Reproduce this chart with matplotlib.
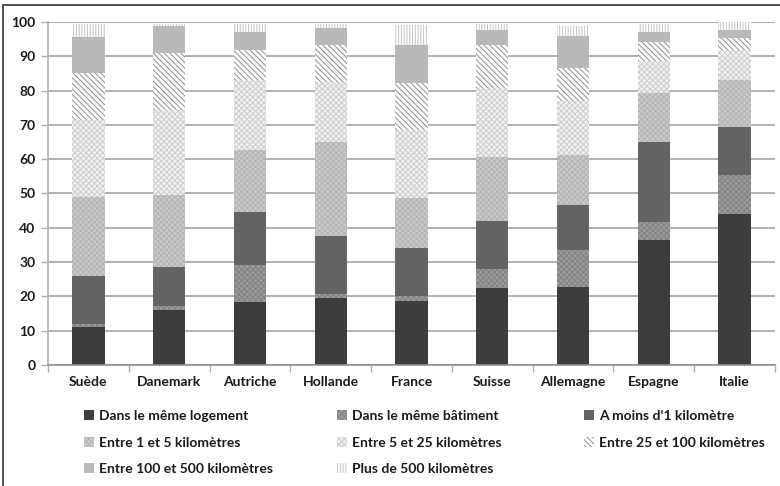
import matplotlib.pyplot as plt
import numpy as np
from matplotlib.patches import Rectangle

plt.rcParams['font.family'] = ['Lato', 'DejaVu Sans']
plt.rcParams['font.weight'] = 'bold'
plt.rcParams['hatch.linewidth'] = 0.7

# Pays
pays = ['Suède', 'Danemark', 'Autriche', 'Hollande', 'France',
        'Suisse', 'Allemagne', 'Espagne', 'Italie']

# Part (%) par distance, dans l'ordre d'empilement
logement = [11.2, 16.1, 18.5, 19.5, 18.6, 22.4, 22.7, 36.5, 44.1]
batiment = [0.8, 1.0, 10.8, 1.1, 1.5, 5.6, 10.7, 5.2, 11.2]
moins_1km = [13.9, 11.5, 15.3, 17.0, 13.9, 14.0, 13.3, 23.3, 14.0]
km_1_5 = [23.0, 21.0, 18.1, 27.4, 14.8, 18.6, 14.5, 14.2, 13.7]
km_5_25 = [22.4, 24.8, 20.3, 17.5, 19.6, 20.1, 15.9, 9.4, 8.9]
km_25_100 = [13.8, 16.6, 8.7, 10.7, 13.8, 12.7, 9.6, 5.5, 3.3]
km_100_500 = [10.5, 7.8, 5.3, 5.1, 11.2, 4.2, 9.2, 3.1, 2.4]
plus_500 = [3.7, 0.7, 2.5, 1.2, 5.8, 1.9, 2.9, 2.3, 2.4]

series = [logement, batiment, moins_1km, km_1_5, km_5_25,
          km_25_100, km_100_500, plus_500]
labels = ['Dans le même logement', 'Dans le même bâtiment',
          "A moins d'1 kilomètre", 'Entre 1 et 5 kilomètres',
          'Entre 5 et 25 kilomètres', 'Entre 25 et 100 kilomètres',
          'Entre 100 et 500 kilomètres', 'Plus de 500 kilomètres']

# (couleur de fond, hachure, couleur de hachure)
styles = [
    ('#3d3d3d', None, None),
    ('#9c9c9c', 'xxxxxx', '#808080'),
    ('#636363', None, None),
    ('#cacaca', 'xxxxxx', '#b2b2b2'),
    ('#f2f2f2', 'xxxxxx', '#cccccc'),
    ('#ffffff', '\\' * 6, '#8e8e8e'),
    ('#b9b9b9', None, None),
    ('#ffffff', '|' * 6, '#c4c4c4'),
]

fig = plt.figure(figsize=(7.8, 4.86), dpi=100)
ax = fig.add_axes([48 / 780, 121 / 486, 727 / 780, 343 / 486])

x = np.arange(len(pays))
bas = np.zeros(len(pays))
handles = []
for vals, lab, (fc, hatch, hc) in zip(series, labels, styles):
    vals = np.array(vals)
    b = ax.bar(x, vals, 0.4, bottom=bas, color=fc, label=lab,
               hatch=hatch, edgecolor=hc if hc else fc, linewidth=0)
    handles.append(b)
    bas += vals

ax.set_xlim(-0.5, len(pays) - 0.5)
ax.set_ylim(0, 100)
ax.set_yticks(np.arange(0, 101, 10))
ax.set_xticks(x)
ax.set_xticklabels(pays, fontsize=10, fontweight='bold', color='#1a1a1a')
ax.tick_params(axis='x', length=0, pad=8)
ax.tick_params(axis='y', length=5, width=1, color='#b0b0b0',
               labelsize=10, labelcolor='#1a1a1a', pad=4)
ax.set_xticks(np.arange(-0.5, len(pays), 1), minor=True)
ax.tick_params(axis='x', which='minor', length=5, color='#b0b0b0', width=1)

ax.grid(axis='y', color='#b0b0b0', linewidth=1.4)
ax.set_axisbelow(True)
for s in ['top', 'right']:
    ax.spines[s].set_visible(False)
ax.spines['left'].set_color('#b0b0b0')
ax.spines['bottom'].set_color('#909090')
ax.spines['left'].set_linewidth(1.2)
ax.spines['bottom'].set_linewidth(1.2)

# Légende en trois colonnes, ordre ligne par ligne
col_x = [84 / 780, 337 / 780, 584 / 780]
for c in range(3):
    idx = [i for i in (c, c + 3, c + 6) if i < len(handles)]
    leg = fig.legend([handles[i] for i in idx], [labels[i] for i in idx],
                     loc='upper left', bbox_to_anchor=(col_x[c], 76 / 486),
                     frameon=False, fontsize=10, handlelength=0.7,
                     handleheight=0.7, handletextpad=0.4, labelspacing=1.05,
                     borderpad=0, borderaxespad=0)
    for t in leg.get_texts():
        t.set_fontweight('bold')
        t.set_color('#1a1a1a')

# Cadre
fig.add_artist(Rectangle((3.5 / 780, -0.2), 1.2, (486 - 4.5) / 486 + 0.2,
                         transform=fig.transFigure, fill=False,
                         edgecolor='#333333', linewidth=1.2))

fig.savefig('out.png', dpi=100)
